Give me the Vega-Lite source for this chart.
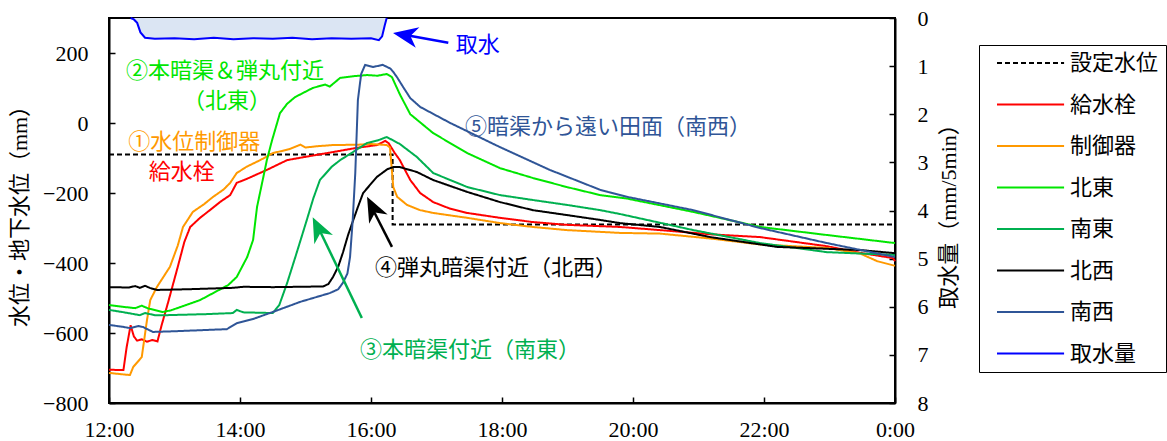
{
  "$schema": "https://vega.github.io/schema/vega-lite/v6.json",
  "width": 786,
  "height": 385,
  "autosize": {"type": "none"},
  "padding": {"left": 109, "top": 18, "right": 272, "bottom": 38},
  "background": "white",
  "config": {
    "view": {"stroke": "black", "strokeWidth": 2},
    "axis": {
      "grid": false, "domainColor": "black", "domainWidth": 2,
      "tickColor": "black", "tickWidth": 1.5, "tickSize": -6,
      "labelColor": "black", "titleColor": "black",
      "labelFont": "Liberation Serif", "labelFontSize": 22,
      "titleFont": "Liberation Serif, Noto Sans CJK JP", "titleFontSize": 22, "titleFontWeight": "normal",
      "labelFlush": false, "labelOverlap": false
    }
  },
  "datasets": {
    "levels": [
      {"s":"設定水位","t":12.0,"v":-90},{"s":"設定水位","t":16.33,"v":-90},{"s":"設定水位","t":16.33,"v":-290},{"s":"設定水位","t":24.0,"v":-290},

      {"s":"給水栓","t":12.0,"v":-705},{"s":"給水栓","t":12.22,"v":-706},{"s":"給水栓","t":12.27,"v":-640},{"s":"給水栓","t":12.33,"v":-578},{"s":"給水栓","t":12.38,"v":-610},{"s":"給水栓","t":12.43,"v":-622},{"s":"給水栓","t":12.5,"v":-618},{"s":"給水栓","t":12.58,"v":-625},{"s":"給水栓","t":12.66,"v":-620},{"s":"給水栓","t":12.74,"v":-624},{"s":"給水栓","t":12.8,"v":-580},{"s":"給水栓","t":12.9,"v":-514},{"s":"給水栓","t":13.05,"v":-411},{"s":"給水栓","t":13.15,"v":-340},{"s":"給水栓","t":13.24,"v":-297},{"s":"給水栓","t":13.39,"v":-271},{"s":"給水栓","t":13.54,"v":-249},{"s":"給水栓","t":13.7,"v":-225},{"s":"給水栓","t":13.85,"v":-206},{"s":"給水栓","t":13.95,"v":-171},{"s":"給水栓","t":14.1,"v":-160},{"s":"給水栓","t":14.41,"v":-134},{"s":"給水栓","t":14.72,"v":-106},{"s":"給水栓","t":15.05,"v":-95},{"s":"給水栓","t":15.42,"v":-83},{"s":"給水栓","t":15.75,"v":-72},{"s":"給水栓","t":16.09,"v":-63},{"s":"給水栓","t":16.22,"v":-51},{"s":"給水栓","t":16.27,"v":-58},{"s":"給水栓","t":16.36,"v":-85},{"s":"給水栓","t":16.44,"v":-106},{"s":"給水栓","t":16.6,"v":-163},{"s":"給水栓","t":16.75,"v":-200},{"s":"給水栓","t":16.95,"v":-226},{"s":"給水栓","t":17.21,"v":-245},{"s":"給水栓","t":17.47,"v":-257},{"s":"給水栓","t":17.97,"v":-271},{"s":"給水栓","t":18.47,"v":-283},{"s":"給水栓","t":18.99,"v":-291},{"s":"給水栓","t":19.8,"v":-297},{"s":"給水栓","t":20.41,"v":-306},{"s":"給水栓","t":21.18,"v":-318},{"s":"給水栓","t":21.94,"v":-326},{"s":"給水栓","t":22.96,"v":-352},{"s":"給水栓","t":23.47,"v":-371},{"s":"給水栓","t":23.97,"v":-386},{"s":"給水栓","t":24.0,"v":-395},

      {"s":"制御器","t":12.0,"v":-714},{"s":"制御器","t":12.2,"v":-718},{"s":"制御器","t":12.32,"v":-720},{"s":"制御器","t":12.37,"v":-697},{"s":"制御器","t":12.5,"v":-669},{"s":"制御器","t":12.58,"v":-563},{"s":"制御器","t":12.63,"v":-506},{"s":"制御器","t":12.73,"v":-469},{"s":"制御器","t":12.93,"v":-411},{"s":"制御器","t":13.05,"v":-350},{"s":"制御器","t":13.13,"v":-297},{"s":"制御器","t":13.28,"v":-254},{"s":"制御器","t":13.45,"v":-232},{"s":"制御器","t":13.59,"v":-211},{"s":"制御器","t":13.75,"v":-190},{"s":"制御器","t":13.85,"v":-171},{"s":"制御器","t":13.95,"v":-143},{"s":"制御器","t":14.1,"v":-125},{"s":"制御器","t":14.31,"v":-106},{"s":"制御器","t":14.5,"v":-86},{"s":"制御器","t":14.75,"v":-75},{"s":"制御器","t":14.92,"v":-62},{"s":"制御器","t":15.0,"v":-70},{"s":"制御器","t":15.2,"v":-66},{"s":"制御器","t":15.42,"v":-63},{"s":"制御器","t":15.8,"v":-62},{"s":"制御器","t":16.0,"v":-60},{"s":"制御器","t":16.24,"v":-63},{"s":"制御器","t":16.29,"v":-70},{"s":"制御器","t":16.34,"v":-183},{"s":"制御器","t":16.4,"v":-211},{"s":"制御器","t":16.55,"v":-234},{"s":"制御器","t":16.75,"v":-249},{"s":"制御器","t":16.95,"v":-257},{"s":"制御器","t":17.47,"v":-271},{"s":"制御器","t":17.97,"v":-286},{"s":"制御器","t":18.47,"v":-297},{"s":"制御器","t":18.99,"v":-306},{"s":"制御器","t":19.8,"v":-314},{"s":"制御器","t":20.41,"v":-316},{"s":"制御器","t":21.18,"v":-330},{"s":"制御器","t":21.94,"v":-347},{"s":"制御器","t":22.96,"v":-357},{"s":"制御器","t":23.47,"v":-373},{"s":"制御器","t":23.73,"v":-395},{"s":"制御器","t":24.0,"v":-408},

      {"s":"北東","t":12.0,"v":-520},{"s":"北東","t":12.2,"v":-525},{"s":"北東","t":12.4,"v":-529},{"s":"北東","t":12.5,"v":-522},{"s":"北東","t":12.6,"v":-530},{"s":"北東","t":12.82,"v":-540},{"s":"北東","t":12.95,"v":-535},{"s":"北東","t":13.39,"v":-506},{"s":"北東","t":13.82,"v":-463},{"s":"北東","t":13.95,"v":-440},{"s":"北東","t":14.11,"v":-383},{"s":"北東","t":14.2,"v":-334},{"s":"北東","t":14.26,"v":-240},{"s":"北東","t":14.35,"v":-160},{"s":"北東","t":14.41,"v":-106},{"s":"北東","t":14.49,"v":-49},{"s":"北東","t":14.61,"v":28},{"s":"北東","t":14.72,"v":55},{"s":"北東","t":14.84,"v":74},{"s":"北東","t":15.11,"v":100},{"s":"北東","t":15.3,"v":110},{"s":"北東","t":15.37,"v":104},{"s":"北東","t":15.53,"v":129},{"s":"北東","t":15.75,"v":134},{"s":"北東","t":15.94,"v":137},{"s":"北東","t":16.1,"v":135},{"s":"北東","t":16.24,"v":140},{"s":"北東","t":16.32,"v":131},{"s":"北東","t":16.44,"v":82},{"s":"北東","t":16.6,"v":25},{"s":"北東","t":16.95,"v":-29},{"s":"北東","t":17.47,"v":-86},{"s":"北東","t":17.97,"v":-129},{"s":"北東","t":18.47,"v":-157},{"s":"北東","t":18.99,"v":-183},{"s":"北東","t":19.5,"v":-206},{"s":"北東","t":19.91,"v":-216},{"s":"北東","t":20.92,"v":-254},{"s":"北東","t":21.94,"v":-297},{"s":"北東","t":22.96,"v":-320},{"s":"北東","t":24.0,"v":-343},

      {"s":"南東","t":12.0,"v":-534},{"s":"南東","t":12.2,"v":-540},{"s":"南東","t":12.47,"v":-549},{"s":"南東","t":12.55,"v":-543},{"s":"南東","t":12.7,"v":-549},{"s":"南東","t":12.89,"v":-549},{"s":"南東","t":13.5,"v":-546},{"s":"南東","t":13.89,"v":-543},{"s":"南東","t":13.95,"v":-534},{"s":"南東","t":14.05,"v":-541},{"s":"南東","t":14.5,"v":-543},{"s":"南東","t":14.6,"v":-520},{"s":"南東","t":14.72,"v":-457},{"s":"南東","t":14.85,"v":-380},{"s":"南東","t":15.02,"v":-277},{"s":"南東","t":15.12,"v":-215},{"s":"南東","t":15.22,"v":-163},{"s":"南東","t":15.4,"v":-125},{"s":"南東","t":15.53,"v":-106},{"s":"南東","t":15.75,"v":-80},{"s":"南東","t":15.94,"v":-57},{"s":"南東","t":16.1,"v":-50},{"s":"南東","t":16.24,"v":-40},{"s":"南東","t":16.44,"v":-60},{"s":"南東","t":16.7,"v":-97},{"s":"南東","t":16.95,"v":-143},{"s":"南東","t":17.47,"v":-183},{"s":"南東","t":17.97,"v":-206},{"s":"南東","t":18.47,"v":-220},{"s":"南東","t":18.99,"v":-234},{"s":"南東","t":19.5,"v":-249},{"s":"南東","t":19.8,"v":-260},{"s":"南東","t":20.41,"v":-285},{"s":"南東","t":20.92,"v":-306},{"s":"南東","t":21.94,"v":-343},{"s":"南東","t":22.96,"v":-369},{"s":"南東","t":24.0,"v":-377},

      {"s":"北西","t":12.0,"v":-469},{"s":"北西","t":12.3,"v":-470},{"s":"北西","t":12.4,"v":-466},{"s":"北西","t":12.47,"v":-471},{"s":"北西","t":12.55,"v":-465},{"s":"北西","t":12.62,"v":-471},{"s":"北西","t":12.73,"v":-477},{"s":"北西","t":13.2,"v":-475},{"s":"北西","t":13.89,"v":-471},{"s":"北西","t":14.05,"v":-468},{"s":"北西","t":14.5,"v":-469},{"s":"北西","t":15.27,"v":-467},{"s":"北西","t":15.35,"v":-460},{"s":"北西","t":15.42,"v":-440},{"s":"北西","t":15.5,"v":-410},{"s":"北西","t":15.57,"v":-371},{"s":"北西","t":15.65,"v":-320},{"s":"北西","t":15.73,"v":-277},{"s":"北西","t":15.8,"v":-240},{"s":"北西","t":15.88,"v":-200},{"s":"北西","t":16.09,"v":-154},{"s":"北西","t":16.25,"v":-132},{"s":"北西","t":16.34,"v":-126},{"s":"北西","t":16.44,"v":-126},{"s":"北西","t":16.7,"v":-140},{"s":"北西","t":16.95,"v":-163},{"s":"北西","t":17.47,"v":-197},{"s":"北西","t":17.97,"v":-226},{"s":"北西","t":18.47,"v":-249},{"s":"北西","t":18.99,"v":-263},{"s":"北西","t":19.5,"v":-277},{"s":"北西","t":19.8,"v":-286},{"s":"北西","t":20.41,"v":-297},{"s":"北西","t":21.18,"v":-326},{"s":"北西","t":22.2,"v":-354},{"s":"北西","t":23.47,"v":-363},{"s":"北西","t":24.0,"v":-372},

      {"s":"南西","t":12.0,"v":-577},{"s":"南西","t":12.2,"v":-582},{"s":"南西","t":12.32,"v":-586},{"s":"南西","t":12.45,"v":-580},{"s":"南西","t":12.52,"v":-583},{"s":"南西","t":12.67,"v":-597},{"s":"南西","t":13.0,"v":-595},{"s":"南西","t":13.8,"v":-589},{"s":"南西","t":13.95,"v":-572},{"s":"南西","t":14.2,"v":-560},{"s":"南西","t":14.5,"v":-540},{"s":"南西","t":14.92,"v":-511},{"s":"南西","t":15.37,"v":-486},{"s":"南西","t":15.5,"v":-475},{"s":"南西","t":15.57,"v":-457},{"s":"南西","t":15.64,"v":-430},{"s":"南西","t":15.68,"v":-383},{"s":"南西","t":15.72,"v":-280},{"s":"南西","t":15.76,"v":-143},{"s":"南西","t":15.8,"v":66},{"s":"南西","t":15.85,"v":140},{"s":"南西","t":15.91,"v":166},{"s":"南西","t":16.03,"v":160},{"s":"南西","t":16.18,"v":166},{"s":"南西","t":16.3,"v":155},{"s":"南西","t":16.34,"v":146},{"s":"南西","t":16.4,"v":130},{"s":"南西","t":16.49,"v":103},{"s":"南西","t":16.6,"v":71},{"s":"南西","t":16.75,"v":46},{"s":"南西","t":17.21,"v":0},{"s":"南西","t":17.97,"v":-69},{"s":"南西","t":18.73,"v":-134},{"s":"南西","t":19.5,"v":-191},{"s":"南西","t":19.91,"v":-211},{"s":"南西","t":20.92,"v":-249},{"s":"南西","t":21.94,"v":-300},{"s":"南西","t":22.96,"v":-343},{"s":"南西","t":24.0,"v":-383}
    ],
    "intake": [
      {"s":"取水量","t":12.33,"q":0},{"s":"取水量","t":12.38,"q":0.03},{"s":"取水量","t":12.43,"q":0.1},{"s":"取水量","t":12.48,"q":0.3},{"s":"取水量","t":12.55,"q":0.41},{"s":"取水量","t":12.7,"q":0.43},{"s":"取水量","t":13.0,"q":0.42},{"s":"取水量","t":13.3,"q":0.44},{"s":"取水量","t":13.6,"q":0.41},{"s":"取水量","t":13.9,"q":0.44},{"s":"取水量","t":14.2,"q":0.42},{"s":"取水量","t":14.5,"q":0.43},{"s":"取水量","t":14.8,"q":0.41},{"s":"取水量","t":15.1,"q":0.44},{"s":"取水量","t":15.4,"q":0.42},{"s":"取水量","t":15.7,"q":0.43},{"s":"取水量","t":16.0,"q":0.42},{"s":"取水量","t":16.12,"q":0.46},{"s":"取水量","t":16.17,"q":0.38},{"s":"取水量","t":16.21,"q":0.15},{"s":"取水量","t":16.24,"q":0}
    ],
    "notes": [
      {"s":"北東","t":13.77,"v":148,"label":"②本暗渠＆弾丸付近"},
      {"s":"北東","t":13.8,"v":64,"label":"（北東）"},
      {"s":"制御器","t":13.3,"v":-53,"label":"①水位制御器"},
      {"s":"給水栓","t":13.11,"v":-140,"label":"給水栓"},
      {"s":"南西","t":19.62,"v":-11,"label":"⑤暗渠から遠い田面（南西）"},
      {"s":"北西","t":17.91,"v":-414,"label":"④弾丸暗渠付近（北西）"},
      {"s":"南東","t":17.51,"v":-649,"label":"③本暗渠付近（南東）"},
      {"s":"取水量","t":17.63,"v":223,"label":"取水"}
    ],
    "arrows": [
      {"s":"取水量","t":17.18,"v":229,"t2":16.59,"v2":249,"tt":16.336,"tv":257},
      {"s":"北西","t":16.32,"v":-354,"t2":16.05,"v2":-255,"tt":15.94,"tv":-211},
      {"s":"南東","t":15.86,"v":-557,"t2":15.23,"v2":-312,"tt":15.11,"tv":-269}
    ]
  },
  "layer": [
    {
      "layer": [
        {
          "data": {"name": "levels"},
          "mark": {"type": "line", "strokeWidth": 2},
          "encoding": {
            "x": {"field": "t", "type": "quantitative", "title": null,
              "scale": {"domain": [12, 24], "nice": false, "zero": false},
              "axis": {"orient": "bottom", "values": [12,14,16,18,20,22,24], "labelExpr": "datum.value == 24 ? '0:00' : datum.value + ':00'", "labelPadding": 22}},
            "y": {"field": "v", "type": "quantitative", "title": "水位・地下水位（mm）",
              "scale": {"domain": [-800, 300], "nice": false, "zero": false},
              "axis": {"orient": "left", "values": [-800,-600,-400,-200,0,200], "labelPadding": 27, "titlePadding": 11}},
            "color": {"field": "s", "type": "nominal",
              "scale": {"domain": ["設定水位","給水栓","制御器","北東","南東","北西","南西","取水量"],
                        "range": ["#000000","#ff0000","#ff9900","#00e600","#00b050","#000000","#2f5597","#0000ff"]},
              "legend": {"orient": "none", "legendX": 870, "legendY": 27, "title": null,
                "symbolType": "M0,0L12,0", "symbolSize": 125, "symbolStrokeWidth": 2,
                "labelFont": "Noto Sans CJK JP", "labelFontSize": 22, "labelColor": "black",
                "labelOffset": 62, "rowPadding": 19.5, "padding": 7,
                "strokeColor": "black", "fillColor": "white"}},
            "strokeDash": {"field": "s", "type": "nominal",
              "scale": {"domain": ["設定水位","給水栓","制御器","北東","南東","北西","南西","取水量"],
                        "range": [[5,3],[1,0],[1,0],[1,0],[1,0],[1,0],[1,0],[1,0]]},
              "legend": {"orient": "none", "legendX": 870, "legendY": 27, "title": null,
                "symbolType": "M0,0L12,0", "symbolSize": 125, "symbolStrokeWidth": 2,
                "labelFont": "Noto Sans CJK JP", "labelFontSize": 22, "labelColor": "black",
                "labelOffset": 62, "rowPadding": 19.5, "padding": 7,
                "strokeColor": "black", "fillColor": "white"}}
          }
        },
        {
          "data": {"name": "notes"},
          "mark": {"type": "text", "font": "Noto Sans CJK JP", "fontSize": 22, "align": "center", "baseline": "middle"},
          "encoding": {
            "x": {"field": "t", "type": "quantitative", "title": null},
            "y": {"field": "v", "type": "quantitative", "title": "水位・地下水位（mm）"},
            "text": {"field": "label"},
            "color": {"field": "s", "type": "nominal", "legend": null}
          }
        },
        {
          "data": {"name": "arrows"},
          "mark": {"type": "rule", "strokeWidth": 2.5},
          "encoding": {
            "x": {"field": "t", "type": "quantitative", "title": null},
            "y": {"field": "v", "type": "quantitative", "title": "水位・地下水位（mm）"},
            "x2": {"field": "t2"},
            "y2": {"field": "v2"},
            "color": {"field": "s", "type": "nominal", "legend": null}
          }
        },
        {
          "data": {"name": "arrows"},
          "transform": [{"filter": "datum.s === '取水量'"}],
          "mark": {"type": "point", "shape": "M0,0L-1,2.4L0,1.7L1,2.4Z", "size": 433, "filled": true, "opacity": 1, "angle": 280},
          "encoding": {
            "x": {"field": "tt", "type": "quantitative", "title": null},
            "y": {"field": "tv", "type": "quantitative", "title": "水位・地下水位（mm）"},
            "color": {"field": "s", "type": "nominal", "legend": null}
          }
        },
        {
          "data": {"name": "arrows"},
          "transform": [{"filter": "datum.s === '北西'"}],
          "mark": {"type": "point", "shape": "M0,0L-1,2.4L0,1.7L1,2.4Z", "size": 433, "filled": true, "opacity": 1, "angle": 333},
          "encoding": {
            "x": {"field": "tt", "type": "quantitative", "title": null},
            "y": {"field": "tv", "type": "quantitative", "title": "水位・地下水位（mm）"},
            "color": {"field": "s", "type": "nominal", "legend": null}
          }
        },
        {
          "data": {"name": "arrows"},
          "transform": [{"filter": "datum.s === '南東'"}],
          "mark": {"type": "point", "shape": "M0,0L-1,2.4L0,1.7L1,2.4Z", "size": 433, "filled": true, "opacity": 1, "angle": 334},
          "encoding": {
            "x": {"field": "tt", "type": "quantitative", "title": null},
            "y": {"field": "tv", "type": "quantitative", "title": "水位・地下水位（mm）"},
            "color": {"field": "s", "type": "nominal", "legend": null}
          }
        }
      ]
    },
    {
      "layer": [
        {
          "data": {"name": "intake"},
          "mark": {"type": "area", "color": "#dbe5f3", "opacity": 1},
          "encoding": {
            "x": {"field": "t", "type": "quantitative", "title": null},
            "y": {"field": "q", "type": "quantitative", "title": "取水量（mm/5min）",
              "scale": {"domain": [0, 8], "reverse": true, "nice": false, "zero": false},
              "axis": {"orient": "right", "values": [0,1,2,3,4,5,6,7,8], "labelPadding": 28, "titlePadding": 10, "titleAngle": 270, "titleBaseline": "top"}},
            "y2": {"datum": 0}
          }
        },
        {
          "data": {"name": "intake"},
          "mark": {"type": "line", "strokeWidth": 2},
          "encoding": {
            "x": {"field": "t", "type": "quantitative", "title": null},
            "y": {"field": "q", "type": "quantitative", "title": "取水量（mm/5min）"},
            "color": {"field": "s", "type": "nominal"}
          }
        }
      ]
    }
  ],
  "resolve": {"scale": {"y": "independent"}}
}
